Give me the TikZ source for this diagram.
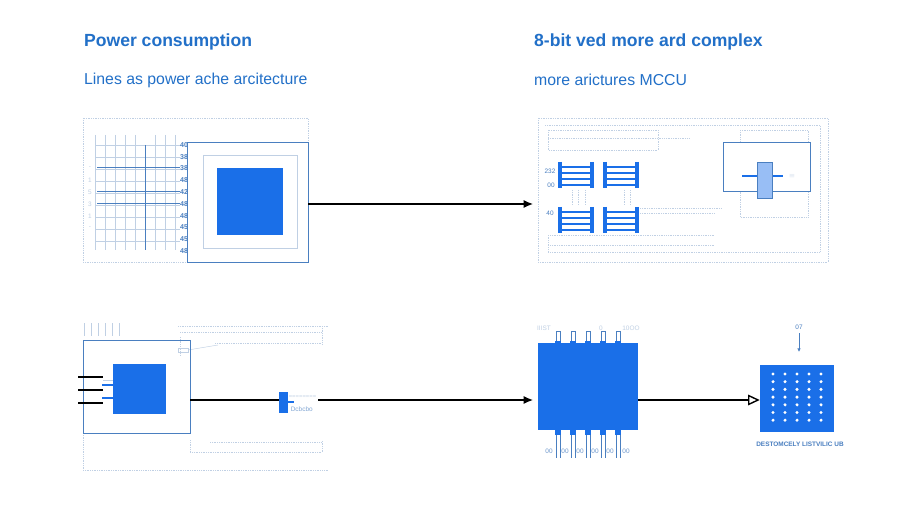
\documentclass[tikz,border=0pt]{standalone}
\usepackage{fontspec}
\setmainfont{Liberation Sans}
\usetikzlibrary{arrows.meta}
\definecolor{bl}{HTML}{1A6FE8}
\definecolor{tb}{HTML}{2270C8}
\definecolor{lb}{HTML}{C0D0E4}
\definecolor{mb}{HTML}{4A7FC0}
\begin{document}
\begin{tikzpicture}[x=0.03cm,y=-0.03cm,
  dot/.style={lb,densely dotted,line width=0.5pt},
  thin/.style={lb,line width=0.4pt},
  frame/.style={mb,line width=0.8pt},
  conn/.style={black,line width=1.1pt,-{Latex[length=8pt,width=7pt]}},
  title/.style={anchor=west,text=tb,font=\bfseries\fontsize{15}{17}\selectfont},
  sub/.style={anchor=west,text=tb,font=\fontsize{13.5}{15}\selectfont},
  tiny/.style={text=mb,font=\fontsize{5.5}{6}\selectfont,inner sep=0.5pt},
  bar/.style={bl,line width=3pt},
  rung/.style={bl,line width=1.4pt}]
\useasboundingbox[fill=white] (0,0) rectangle (900,514);
\node[title] (t1) at (80,42) {Power consumption};
\node[sub] (s1) at (80,80) {Lines as power ache arcitecture};
\node[title] (t2) at (530,42) {8-bit ved more ard complex};
\node[sub] (s2) at (530,80) {more arictures MCCU};
% ---- top left
\draw[dot] (83,118) rectangle (308,262);
\foreach \x in {95,105,115,125,135,155,165,175} \draw[thin] (\x,135) -- (\x,250);
\foreach \y in {145,157,169,181,193,205,217,229,241} \draw[thin] (95,\y) -- (180,\y);
\draw[mb,line width=0.7pt] (145,145) -- (145,250);
\foreach \y in {167,191,203} \draw[mb,line width=0.8pt] (97,\y) -- (180,\y);
\foreach \t [count=\i] in {40,38,38,48,42,48,48,45,45,48}
  \node[tiny,font=\bfseries\fontsize{6}{6}\selectfont] (n\i) at (184,133+\i*11.8) {\t};
\foreach \t [count=\i] in {-,1,5,3,1,-} \node[tiny,text=lb] (m\i) at (90,156+\i*12) {\t};
\node[draw=mb,line width=0.8pt,minimum width=121*0.03cm,minimum height=120*0.03cm,inner sep=0] (cpu1) at (247.5,202) {};
\draw[lb,line width=0.7pt] (203,155) rectangle (297,248);
\node[fill=bl,minimum width=66*0.03cm,minimum height=67*0.03cm,inner sep=0] (sq1) at (250,201.5) {};
\coordinate (a1) at (533,204);
\draw[conn] (cpu1.east |- 0,204) -- (a1);
% ---- top right
\draw[dot] (538,118) rectangle (828,262);
\draw[dot] (545,125) -- (820,125) -- (820,252) -- (548,252) -- (548,235);
\draw[dot] (548,130) rectangle (658,150);
\draw[dot] (548,138) -- (690,138);
\draw[dot] (740,130) rectangle (808,217);
\draw[dot] (550,235) -- (715,235) (550,245) -- (715,245) (640,208) -- (722,208) (640,213) -- (715,213);
\foreach \gx in {560,605}{
  \foreach \gy in {162,207}{
    \draw[bar] (\gx,\gy) -- (\gx,\gy+26);
    \draw[bar] (\gx+32,\gy) -- (\gx+32,\gy+26);
    \foreach \r in {5,11,17,23} \draw[rung] (\gx,\gy+\r) -- (\gx+32,\gy+\r);
  }
}
\foreach \x in {572,578,585,624,630} \draw[dot] (\x,190) -- (\x,205);
\node[tiny] (l1) at (550,171) {232};
\node[tiny] (l2) at (551,185) {00};
\node[tiny] (l3) at (550,213) {40};
\node[draw=mb,line width=0.8pt,fill=white,minimum width=87*0.03cm,minimum height=49*0.03cm,inner sep=0] (bx) at (766.5,166.5) {};
\draw[bl,line width=2.2pt] (742,176) -- (783,176);
\node[draw=mb,fill=bl!45,line width=0.6pt,minimum width=15*0.03cm,minimum height=36*0.03cm,inner sep=0] (cap) at (764.5,180) {};
\node[tiny,text=lb] (l4) at (792,176) {$\equiv$};
% ---- bottom left
\foreach \x in {84,91,98,105,112,119} \draw[lb,line width=0.6pt] (\x,323) -- (\x,336);
\draw[dot] (178,326) -- (328,326) (180,332) -- (322,332) (322,326) -- (322,345) (215,343) -- (322,343) (180,337) -- (180,355);
\draw[thin] (178,348) rectangle (188,352);
\draw[thin] (188,350) -- (218,345);
\draw[dot] (83,470) -- (328,470) (83,340) -- (83,470) (190,440) -- (190,452) -- (322,452) -- (322,440) (210,442) -- (322,442);
\node[draw=mb,line width=0.8pt,minimum width=107*0.03cm,minimum height=93*0.03cm,inner sep=0] (cpu2) at (136.5,386.5) {};
\node[fill=bl,minimum width=53*0.03cm,minimum height=50*0.03cm,inner sep=0] (sq2) at (139.5,389) {};
\foreach \y in {377,390,403} \draw[black,line width=1.2pt] (78,\y) -- (103,\y);
\draw[bl,line width=1.2pt] (102,385) -- (113,385) (102,398) -- (113,398);
\draw[thin] (103,380) -- (113,380);
\node[fill=bl,minimum width=9*0.03cm,minimum height=21*0.03cm,inner sep=0] (res) at (283.5,402.5) {};
\node[tiny,text=lb,anchor=west] (l5) at (288,397) {\tiny ========};
\node[tiny,text=mb!70,anchor=west] (l6) at (290,409) {Dcbcbo};
\draw[bl,line width=1pt] (288,402) -- (294,402);
\coordinate (a2) at (533,400);
\draw[black,line width=1.2pt] (cpu2.east |- 0,400) -- (res.west |- 0,400);
\draw[conn] (318,400) -- (a2);
% ---- bottom right
\foreach \x in {558,573,588,603,618}{
  \draw[mb,line width=0.6pt] (\x-2,331) rectangle (\x+2,341);
  \fill[bl] (\x-3,341) rectangle (\x+3,344);
  \fill[bl] (\x-3,430) rectangle (\x+3,435);
  \draw[mb,line width=0.5pt] (\x-2,435) -- (\x-2,458) (\x+2,435) -- (\x+2,458);
}
\foreach \x in {549,565,580,595,610,626} \node[tiny,text=mb!80] at (\x,451) {00};
\node[tiny,text=lb] (l7) at (544,328) {IIIST};
\node[tiny,text=lb] (l8) at (601,328) {0};
\node[tiny,text=lb] (l9) at (631,328) {10OO};
\node[fill=bl,minimum width=100*0.03cm,minimum height=87*0.03cm,inner sep=0] (chip) at (588,386.5) {};
\node[fill=bl,minimum width=74*0.03cm,minimum height=67*0.03cm,inner sep=0] (grid) at (797,398.5) {};
\draw[black,line width=1.2pt,-{Triangle[open,length=10pt,width=9pt]}] (chip.east |- 0,400) -- (grid.west |- 0,400);
\foreach \i in {0,...,4} \foreach \j in {0,...,6}
  \fill[white] (773+\i*12,374+\j*7.7) circle (1.7);
\node[tiny,text=mb] (l10) at (799,327) {07};
\draw[mb,line width=0.8pt,-{Latex[length=3pt,width=3pt]}] (799,333) -- (799,352);
\node[text=mb,font=\bfseries\fontsize{5.5}{6}\selectfont] (cap2) at (800,444) {DESTOMCELY LISTVILIC UB};
\end{tikzpicture}
\end{document}
